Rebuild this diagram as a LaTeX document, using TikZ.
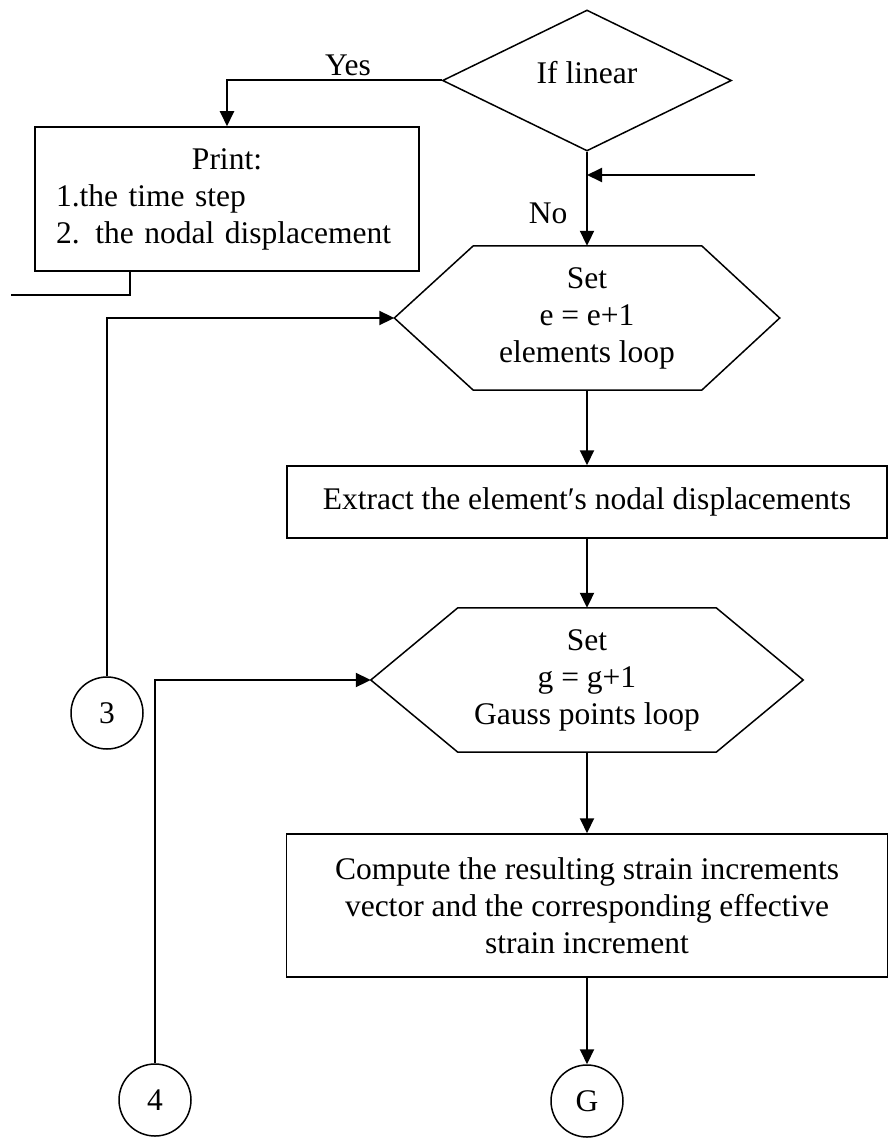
\documentclass[tikz,border=0pt]{standalone}
\usepackage{fontspec}
\setmainfont{Liberation Serif}
\usepackage{tikz}
\usetikzlibrary{positioning,arrows.meta,calc,shapes.geometric}

\begin{document}
\begin{tikzpicture}[x=1pt, y=-1pt,
  every node/.style={font=\fontsize{31.5}{37}\selectfont},
  lbl/.style={inner sep=1pt},
  boxv/.style={rectangle, draw=black, line width=1.5pt, inner sep=0pt, align=center},
  hexv/.style={rectangle, draw=none, inner sep=0pt, align=center},
  ifv/.style={diamond, draw=black, line width=1.5pt, inner sep=0pt, minimum width=289pt, minimum height=141pt},
  connv/.style={circle, draw=black, line width=1.5pt, inner sep=0pt, minimum size=72pt},
  hexline/.style={draw=black, line width=1.5pt, line join=miter},
  plainedge/.style={draw=black, line width=1.8pt},
  arrowedge/.style={draw=black, line width=2pt, -{Triangle[length=15pt, width=14pt]}}
]
\useasboundingbox (0,0) rectangle (891,1147);

\node[ifv, text depth=16pt] (nif) at (587,80.5) {If linear};
\node[boxv, minimum width=384pt, minimum height=144pt, text width=342pt, inner xsep=21pt, align=left] (nprint) at (227,199)
  {\hfil Print:\hfil\\1.the time step\\2. the nodal displacement};
\node[hexv, minimum width=385pt, minimum height=144pt] (nset1) at (587,318) {Set\\e = e+1\\elements loop};
\node[boxv, minimum width=600pt, minimum height=72pt] (nextract) at (587,502) {Extract the element′s nodal displacements};
\node[hexv, minimum width=432pt, minimum height=144pt] (nset2) at (587,680) {Set\\g = g+1\\Gauss points loop};
\node[boxv, minimum width=601pt, minimum height=143pt] (ncompute) at (587,905.5)
  {Compute the resulting strain increments\\vector and the corresponding effective\\strain increment};
\node[connv] (c3) at (107,713) {3};
\node[connv] (c4) at (155,1100) {4};
\node[connv] (cG) at (587,1101) {G};
\coordinate (in1) at (755,175);
\coordinate (out1) at (11,295);

% hexagon outlines
\draw[hexline] (nset1.west) -- ($(nset1.north west)+(79,0)$) -- ($(nset1.north east)+(-78,0)$) -- (nset1.east)
  -- ($(nset1.south east)+(-78,0)$) -- ($(nset1.south west)+(79,0)$) -- cycle;
\draw[hexline] (nset2.west) -- ($(nset2.north west)+(87,0)$) -- ($(nset2.north east)+(-87,0)$) -- (nset2.east)
  -- ($(nset2.south east)+(-87,0)$) -- ($(nset2.south west)+(87,0)$) -- cycle;

\draw[arrowedge] (nif.west) -| (nprint.north);
\draw[arrowedge] (nif.south) -- (nset1.north);
\draw[arrowedge] (in1) -- (in1 -| nif.south);
\draw[plainedge] ($(nprint.south west)+(96,0)$) |- (out1);
\draw[arrowedge] (nset1.south) -- (nextract.north);
\draw[arrowedge] (nextract.south) -- (nset2.north);
\draw[arrowedge] (nset2.south) -- (ncompute.north);
\draw[arrowedge] (ncompute.south) -- (cG.north);
\draw[arrowedge] (c3.north) |- (nset1.west);
\draw[arrowedge] (c4.north) |- (nset2.west);
\node[lbl] at (348,65) {Yes};
\node[lbl] at (548,213) {No};

\end{tikzpicture}
\end{document}
